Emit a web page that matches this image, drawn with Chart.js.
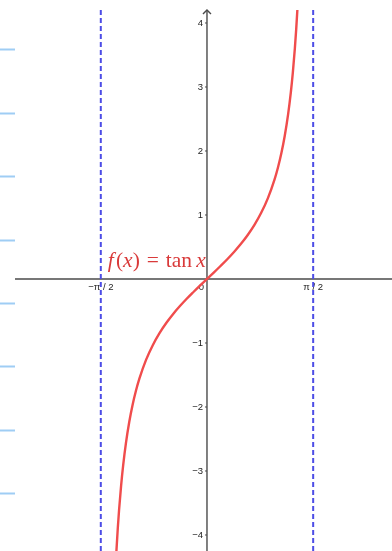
<!DOCTYPE html>
<html>
<head>
<meta charset="utf-8">
<title>f(x) = tan x</title>
<script src="https://cdn.jsdelivr.net/npm/chart.js@4.4.1/dist/chart.umd.min.js"></script>
<style>
  html, body { margin: 0; padding: 0; background: #fff; }
  canvas { display: block; }
</style>
</head>
<body>
<canvas id="tanChart" width="392" height="551"></canvas>
<script>
// f(x) = tan x sampled on (-π/2, π/2), denser near the asymptotes
const curveX = [-1.36, -1.34, -1.32, -1.30, -1.27, -1.24, -1.20, -1.15, -1.10, -1.05, -1.00,
  -0.90, -0.80, -0.70, -0.60, -0.50, -0.40, -0.30, -0.20, -0.10, 0,
  0.10, 0.20, 0.30, 0.40, 0.50, 0.60, 0.70, 0.80, 0.90,
  1.00, 1.05, 1.10, 1.15, 1.20, 1.24, 1.27, 1.30, 1.32, 1.34, 1.36];
const curveY = [-4.673, -4.256, -3.903, -3.602, -3.224, -2.912, -2.572, -2.235, -1.965, -1.743, -1.557,
  -1.260, -1.030, -0.842, -0.684, -0.546, -0.423, -0.309, -0.203, -0.100, 0,
  0.100, 0.203, 0.309, 0.423, 0.546, 0.684, 0.842, 1.030, 1.260,
  1.557, 1.743, 1.965, 2.235, 2.572, 2.912, 3.224, 3.602, 3.903, 4.256, 4.673];

// vertical asymptotes x = ±π/2
const asymptoteX = [-Math.PI / 2, Math.PI / 2];

// axis ticks
const xTicks = [-Math.PI / 2, Math.PI / 2];
const xTickLabels = ['\u2212\u03c0 / 2', '\u03c0 / 2'];
const yTicks = [4, 3, 2, 1, -1, -2, -3, -4];
const yTickLabels = ['4', '3', '2', '1', '\u22121', '\u22122', '\u22123', '\u22124'];

// short marks in the left margin
const sideMarkY = [3.59, 2.6, 1.61, 0.61, -0.38, -1.36, -2.36, -3.34];

// where the function label sits (data coords) and how wide it runs (px)
const labelAt = { x: -1.467, y: 0.19 };
const labelWidth = 98;

const AXIS_COLOR = '#4a4a4a';
const CURVE_COLOR = '#f04c4c';
const ASYM_COLOR = '#4d4de6';
const LABEL_COLOR = '#d93a3a';

const labelParts = [
  { t: 'f', it: true }, { t: '(', it: false }, { t: 'x', it: true }, { t: ')', it: false },
  { gap: 0.32 }, { t: '=', it: false }, { gap: 0.32 },
  { t: 'tan', it: false }, { gap: 0.2 }, { t: 'x', it: true }
];
const SERIF = '"Liberation Serif", "DejaVu Serif", serif';

// lays out the label pieces at a given font size, returns the total width
function layoutLabel(ctx, size, draw, x0, y0) {
  let cx = x0;
  labelParts.forEach(p => {
    if (p.gap) { cx += p.gap * size; return; }
    ctx.font = (p.it ? 'italic ' : '') + size + 'px ' + SERIF;
    if (draw) ctx.fillText(p.t, cx, y0);
    cx += ctx.measureText(p.t).width + (p.t === 'f' ? size * 0.1 : 0);
  });
  return cx - x0;
}

const axesPlugin = {
  id: 'centerAxes',
  beforeDatasetsDraw(chart) {
    const { ctx, chartArea, scales: { x, y } } = chart;
    const ox = x.getPixelForValue(0);
    const oy = y.getPixelForValue(0);

    ctx.save();
    // margin marks
    ctx.strokeStyle = '#9fcdf4';
    ctx.lineWidth = 2;
    sideMarkY.forEach(v => {
      const py = Math.round(y.getPixelForValue(v)) + 0.5;
      ctx.beginPath();
      ctx.moveTo(0, py);
      ctx.lineTo(chartArea.left, py);
      ctx.stroke();
    });

    ctx.strokeStyle = AXIS_COLOR;
    ctx.lineWidth = 1.4;
    // x axis
    ctx.beginPath();
    ctx.moveTo(chartArea.left, oy);
    ctx.lineTo(chartArea.right, oy);
    ctx.stroke();
    // y axis with arrow head
    ctx.beginPath();
    ctx.moveTo(ox, chartArea.top);
    ctx.lineTo(ox, chart.height);
    ctx.stroke();
    ctx.beginPath();
    ctx.moveTo(ox - 4, chartArea.top + 4);
    ctx.lineTo(ox, chartArea.top);
    ctx.lineTo(ox + 4, chartArea.top + 4);
    ctx.stroke();

    ctx.fillStyle = '#222';
    ctx.font = '9.5px "Liberation Sans", Arial, sans-serif';
    ctx.lineWidth = 1;

    // y ticks
    ctx.textAlign = 'right';
    ctx.textBaseline = 'middle';
    yTicks.forEach((v, i) => {
      const py = y.getPixelForValue(v);
      ctx.beginPath();
      ctx.moveTo(ox - 2, py);
      ctx.lineTo(ox, py);
      ctx.stroke();
      ctx.fillText(yTickLabels[i], ox - 4, py);
    });

    // x ticks
    ctx.textAlign = 'center';
    ctx.textBaseline = 'top';
    xTicks.forEach((v, i) => {
      const px = x.getPixelForValue(v);
      ctx.fillText(xTickLabels[i], px, oy + 4);
    });

    // origin
    ctx.textAlign = 'right';
    ctx.fillText('0', ox - 3, oy + 4);
    ctx.restore();
  },
  afterDatasetsDraw(chart) {
    const { ctx, scales: { x, y } } = chart;
    const px = x.getPixelForValue(labelAt.x);
    const py = y.getPixelForValue(labelAt.y);
    ctx.save();
    ctx.fillStyle = LABEL_COLOR;
    ctx.textBaseline = 'alphabetic';
    ctx.textAlign = 'left';
    const w = layoutLabel(ctx, 20, false, 0, 0);
    const size = 20 * labelWidth / w;
    layoutLabel(ctx, size, true, px, py);
    ctx.restore();
  }
};

const tanData = curveX.map((v, i) => ({ x: v, y: curveY[i] }));

const asymDatasets = asymptoteX.map(v => ({
  data: [{ x: v, y: -6 }, { x: v, y: 6 }],
  borderColor: ASYM_COLOR,
  borderWidth: 2,
  borderDash: [5, 3],
  pointRadius: 0,
  showLine: true
}));

new Chart(document.getElementById('tanChart'), {
  type: 'scatter',
  data: {
    datasets: [
      ...asymDatasets,
      {
        data: tanData,
        borderColor: CURVE_COLOR,
        borderWidth: 2.4,
        pointRadius: 0,
        showLine: true,
        cubicInterpolationMode: 'monotone'
      }
    ]
  },
  options: {
    responsive: false,
    animation: false,
    layout: { padding: { top: 10, left: 15, right: 0, bottom: 0 } },
    plugins: {
      legend: { display: false },
      tooltip: { enabled: false }
    },
    scales: {
      x: { type: 'linear', min: -2.84, max: 2.737, display: false },
      y: { type: 'linear', min: -4.25, max: 4.203, display: false }
    }
  },
  plugins: [axesPlugin]
});
</script>
</body>
</html>
